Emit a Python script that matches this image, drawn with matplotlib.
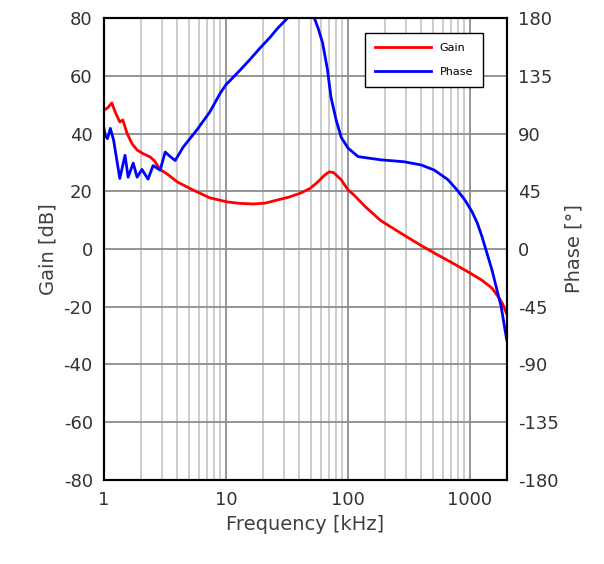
import matplotlib.pyplot as plt
from matplotlib.ticker import LogLocator, NullFormatter, FixedLocator

plt.rcParams['font.family'] = ['DejaVu Sans']
plt.rcParams['axes.unicode_minus'] = False

# Gain curve (frequency in kHz, gain in dB)
gain_freq = [1.0, 1.08, 1.16, 1.25, 1.35, 1.43, 1.55, 1.7, 1.87, 2.1, 2.39, 2.6,
             2.89, 3.3, 4.0, 5.4, 7.4, 10.3, 13, 16.8, 21, 26.5, 33, 41, 49, 56.5,
             64, 70, 76, 88, 100, 112, 140, 186, 288, 398, 510, 743, 970,
             1250, 1510, 1700, 1850, 2000]
gain_db = [48, 49, 50.6, 47, 44, 44.7, 40, 36.5, 34.3, 33, 31.9, 30.5,
           27.5, 26, 23.2, 20.4, 17.7, 16.3, 15.8, 15.6, 15.9, 17, 18, 19.4, 21, 23.2,
           25.5, 26.7, 26.5, 24, 20.5, 18.7, 14.5, 9.8, 4.8, 1.2, -1.4, -5.2, -8,
           -10.8, -13.5, -16.5, -19, -22.5]

# Phase curve (frequency in kHz, phase in degrees)
phase_freq = [1.0, 1.03, 1.07, 1.13, 1.2, 1.35, 1.49, 1.58, 1.74, 1.87, 2.05, 2.3,
              2.53, 2.89, 3.18, 3.5, 3.84, 4.47, 5.8, 7.4, 9.0, 10, 13.1, 15.5,
              19.2, 23, 26.5, 32, 40, 48, 52.5, 57, 62, 68, 72.5, 80, 88, 100,
              121, 186, 288, 398, 510, 660, 800, 910, 1040, 1150, 1250, 1510,
              1800, 2000]
phase_deg = [94, 88, 86, 94, 85, 55, 73, 56, 67, 56, 62, 54.5,
             65, 61.5, 75.6, 72, 69, 79.5, 93, 107, 121.6, 128, 139.5, 147,
             157, 165, 172, 180, 186, 186, 181, 172, 160.5, 139.5, 118.5, 100.5, 87, 78.7,
             72, 69.5, 68, 65.5, 61.5, 54, 45, 38, 29, 20, 10, -16,
             -45, -71]

fig, ax = plt.subplots(figsize=(6.04, 5.64), dpi=100)
fig.subplots_adjust(left=0.172, right=0.839, top=0.968, bottom=0.149)

ax.set_xscale('log')
ax.set_xlim(1, 2000)
ax.set_ylim(-80, 80)
ax.set_yticks(range(-80, 81, 20))
ax.xaxis.set_major_locator(FixedLocator([1, 10, 100, 1000]))
ax.set_xticklabels(['1', '10', '100', '1000'])
ax.xaxis.set_minor_locator(LogLocator(base=10, subs=range(2, 10)))
ax.xaxis.set_minor_formatter(NullFormatter())

ax.grid(which='minor', axis='x', color='#c8c8c8', linewidth=1.3)
ax.grid(which='major', axis='x', color='#8c8c8c', linewidth=1.3)
ax.grid(which='major', axis='y', color='#8c8c8c', linewidth=1.3)
ax.set_axisbelow(True)
ax.tick_params(which='both', length=0, labelsize=13, pad=8, labelcolor='#333333')

l1, = ax.plot(gain_freq, gain_db, color='#ff0000', linewidth=2, label='Gain')

ax2 = ax.twinx()
ax2.set_ylim(-180, 180)
ax2.set_yticks(range(-180, 181, 45))
ax2.tick_params(length=0, labelsize=13, pad=8, labelcolor='#333333')
l2, = ax2.plot(phase_freq, phase_deg, color='#0000ff', linewidth=2, label='Phase')

for a in (ax, ax2):
    for s in a.spines.values():
        s.set_color('black')
        s.set_linewidth(1.5)

ax.set_xlabel('Frequency [kHz]', fontsize=14, color='#404040')
ax.set_ylabel('Gain [dB]', fontsize=14, color='#404040')
ax2.set_ylabel('Phase [°]', fontsize=14, color='#404040')

leg = ax2.legend(handles=[l1, l2], loc='upper right', bbox_to_anchor=(0.955, 0.98),
                 fontsize=8, fancybox=False, framealpha=1, edgecolor='black',
                 handlelength=5, labelspacing=1.3, borderpad=0.9)
leg.get_frame().set_linewidth(1)

plt.savefig('out.png')
